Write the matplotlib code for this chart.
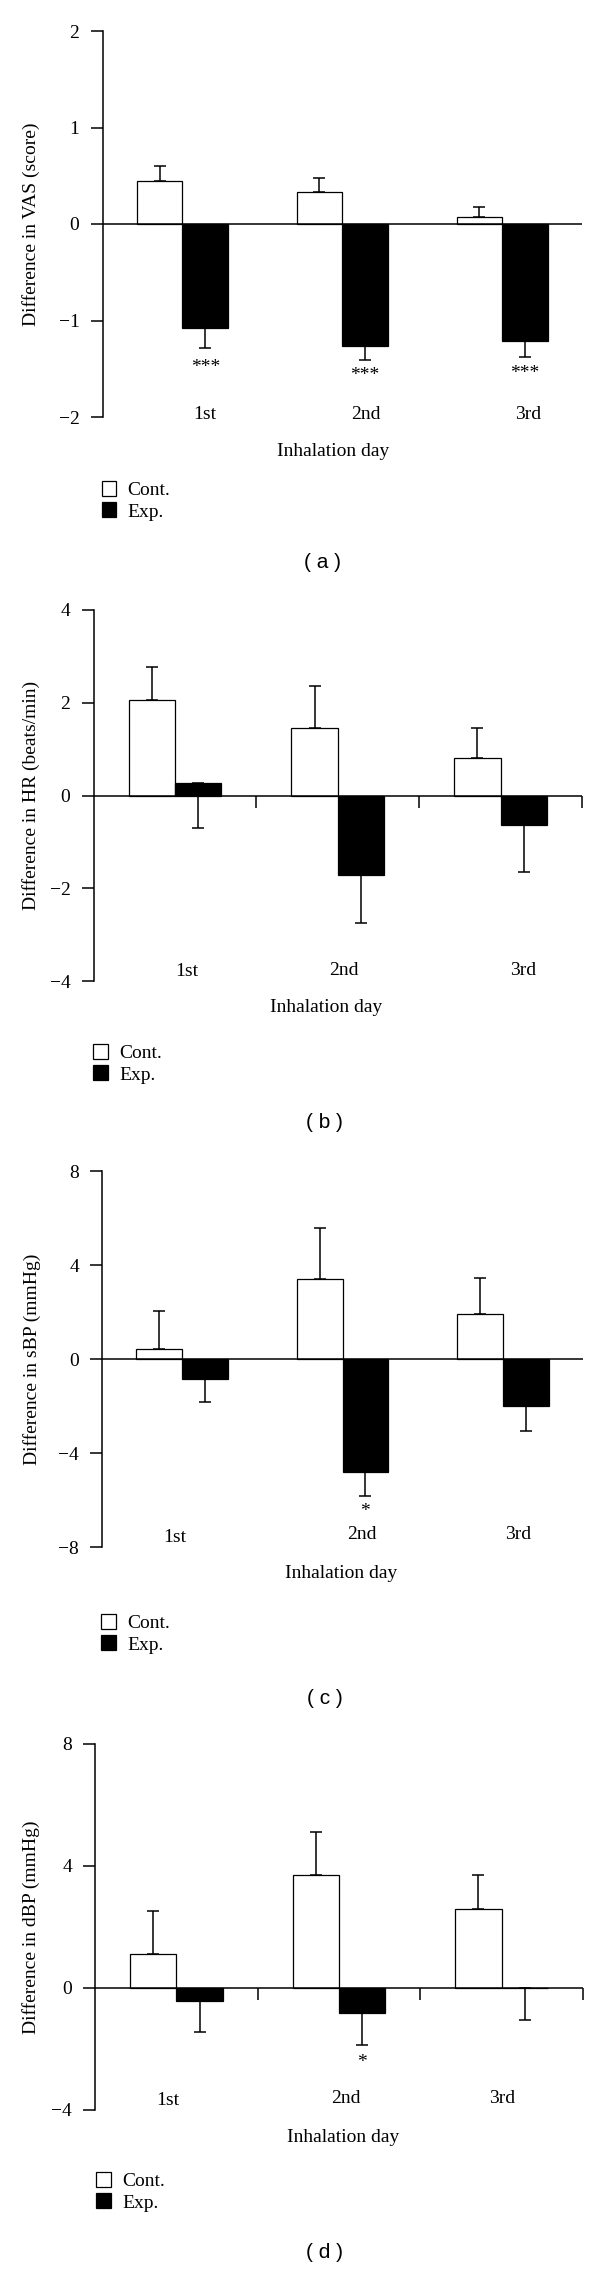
import numpy as np
import matplotlib
matplotlib.use('Agg')
import matplotlib.pyplot as plt

plt.rcParams['font.family'] = ['Liberation Serif', 'DejaVu Serif']
plt.rcParams['font.size'] = 14

W, H = 600, 2269

# ---------------- data ----------------
categories = ['1st', '2nd', '3rd']
legend_labels = ['Cont.', 'Exp.']
x_title = 'Inhalation day'

vas_cont = [0.45, 0.335, 0.07]
vas_cont_err = [0.15, 0.14, 0.11]
vas_exp = [-1.08, -1.26, -1.21]
vas_exp_err = [0.20, 0.15, 0.17]
vas_sig = ['***', '***', '***']
vas_sig_y = [-1.435, -1.52, -1.50]

hr_cont = [2.07, 1.46, 0.80]
hr_cont_err = [0.71, 0.90, 0.65]
hr_exp = [0.27, -1.71, -0.63]
hr_exp_err = [0.97, 1.04, 1.02]
hr_sig = ['', '', '']
hr_sig_y = [0, 0, 0]

sbp_cont = [0.42, 3.41, 1.91]
sbp_cont_err = [1.61, 2.16, 1.55]
sbp_exp = [-0.84, -4.81, -2.00]
sbp_exp_err = [0.99, 1.02, 1.05]
sbp_sig = ['', '*', '']
sbp_sig_y = [0, -6.3, 0]

dbp_cont = [1.10, 3.68, 2.57]
dbp_cont_err = [1.42, 1.43, 1.11]
dbp_exp = [-0.43, -0.83, 0.0]
dbp_exp_err = [1.02, 1.05, 1.05]
dbp_sig = ['', '*', '']
dbp_sig_y = [0, -2.29, 0]

panels = [
    dict(cont=vas_cont, cont_err=vas_cont_err, exp=vas_exp, exp_err=vas_exp_err,
         sig=vas_sig, sig_y=vas_sig_y, ylabel='Difference in VAS (score)',
         ylim=(-2, 2), yticks=[-2, -1, 0, 1, 2], sep=False, tag='( a )',
         box=(102.5, 582, 31, 417), xlab=(333.5, 452), leg=(101.5, 481), tagpos=(322, 563),
         ylab_x=31.5, lab_dx=[0.14, 0.148, 0.16], lab_y=[-2.02, -2.02, -2.02]),
    dict(cont=hr_cont, cont_err=hr_cont_err, exp=hr_exp, exp_err=hr_exp_err,
         sig=hr_sig, sig_y=hr_sig_y, ylabel='Difference in HR (beats/min)',
         ylim=(-4, 4), yticks=[-4, -2, 0, 2, 4], sep=True, sep_len=0.28, tag='( b )',
         box=(93.5, 582, 610, 981), xlab=(326, 1007), leg=(93, 1044), tagpos=(324, 1123),
         ylab_x=31, lab_dx=[0.075, 0.04, 0.14], lab_y=[-3.90, -3.86, -3.86]),
    dict(cont=sbp_cont, cont_err=sbp_cont_err, exp=sbp_exp, exp_err=sbp_exp_err,
         sig=sbp_sig, sig_y=sbp_sig_y, ylabel='Difference in sBP (mmHg)',
         ylim=(-8, 8), yticks=[-8, -4, 0, 4, 8], sep=False, tag='( c )',
         box=(102, 583, 1171, 1547), xlab=(341, 1573), leg=(101, 1614), tagpos=(325, 1698),
         ylab_x=32, lab_dx=[-0.044, 0.12, 0.094], lab_y=[-7.78, -7.66, -7.66]),
    dict(cont=dbp_cont, cont_err=dbp_cont_err, exp=dbp_exp, exp_err=dbp_exp_err,
         sig=dbp_sig, sig_y=dbp_sig_y, ylabel='Difference in dBP (mmHg)',
         ylim=(-4, 8), yticks=[-4, 0, 4, 8], sep=True, sep_len=0.39, tag='( d )',
         box=(95, 583, 1743.5, 2110), xlab=(343, 2137), leg=(96, 2172), tagpos=(324, 2253),
         ylab_x=31, lab_dx=[-0.05, 0.045, 0.0], lab_y=[-3.84, -3.77, -3.77]),
]

fig = plt.figure(figsize=(W / 100, H / 100), dpi=100)
fig.patch.set_facecolor('white')

bw = 0.285
lw = 1.1
fs = 14

for p in panels:
    left, right, top, bottom = p['box']
    ax = fig.add_axes([left / W, 1 - bottom / H, (right - left) / W, (bottom - top) / H])
    ax.set_facecolor('none')
    x = np.arange(len(categories))
    cont = np.array(p['cont'])
    exp = np.array(p['exp'])
    zeros = np.zeros(len(categories))

    ax.errorbar(x - bw / 2, cont, yerr=[zeros, p['cont_err']], fmt='none', ecolor='black',
                elinewidth=lw, capsize=4, capthick=lw, zorder=1)
    ax.errorbar(x + bw / 2, exp, yerr=[p['exp_err'], zeros], fmt='none', ecolor='black',
                elinewidth=lw, capsize=4, capthick=lw, zorder=1)
    b1 = ax.bar(x - bw / 2, cont, bw, color='white', edgecolor='black', linewidth=0.9, zorder=2)
    b2 = ax.bar(x + bw / 2, exp, bw, color='black', edgecolor='black', linewidth=0.9, zorder=2)
    ax.axhline(0, color='black', linewidth=lw, zorder=3)

    if p['sep']:
        ax.vlines(x + 0.5, -p['sep_len'], 0, color='black', linewidth=lw, clip_on=False, zorder=3)

    for i, (s, sy) in enumerate(zip(p['sig'], p['sig_y'])):
        if s:
            ax.annotate(s, xy=(x[i] + bw / 2, sy), xytext=(0, -6.8), textcoords='offset points',
                        ha='center', va='baseline', fontsize=fs)

    for i, lab in enumerate(categories):
        ax.text(x[i] + p['lab_dx'][i], p['lab_y'][i], lab, ha='center', va='baseline', fontsize=fs)

    ax.set_xlim(-0.5, 2.5)
    ax.set_ylim(*p['ylim'])
    ax.set_yticks(p['yticks'])
    ax.set_xticks([])
    for sp in ['top', 'right', 'bottom']:
        ax.spines[sp].set_visible(False)
    ax.spines['left'].set_linewidth(lw)
    ax.tick_params(axis='y', direction='out', length=8.6, width=lw, pad=8, labelsize=fs)

    fig.text(p['ylab_x'] / W, 1 - (top + bottom) / 2 / H, p['ylabel'], rotation=90,
             ha='center', va='center', fontsize=fs)
    fig.text(p['xlab'][0] / W, 1 - p['xlab'][1] / H, x_title, ha='center', va='center', fontsize=fs)

    ax.legend([b1, b2], legend_labels, loc='upper left',
              bbox_to_anchor=(p['leg'][0] / W, 1 - p['leg'][1] / H), bbox_transform=fig.transFigure,
              frameon=False, fontsize=fs, handlelength=0.77, handleheight=0.82,
              handletextpad=0.57, labelspacing=0.15, borderpad=0, borderaxespad=0)

    fig.text(p['tagpos'][0] / W, 1 - p['tagpos'][1] / H, p['tag'], ha='center', va='center',
             fontsize=15, family=['Liberation Sans', 'DejaVu Sans'])

fig.savefig('out.png', dpi=100, facecolor='white')
